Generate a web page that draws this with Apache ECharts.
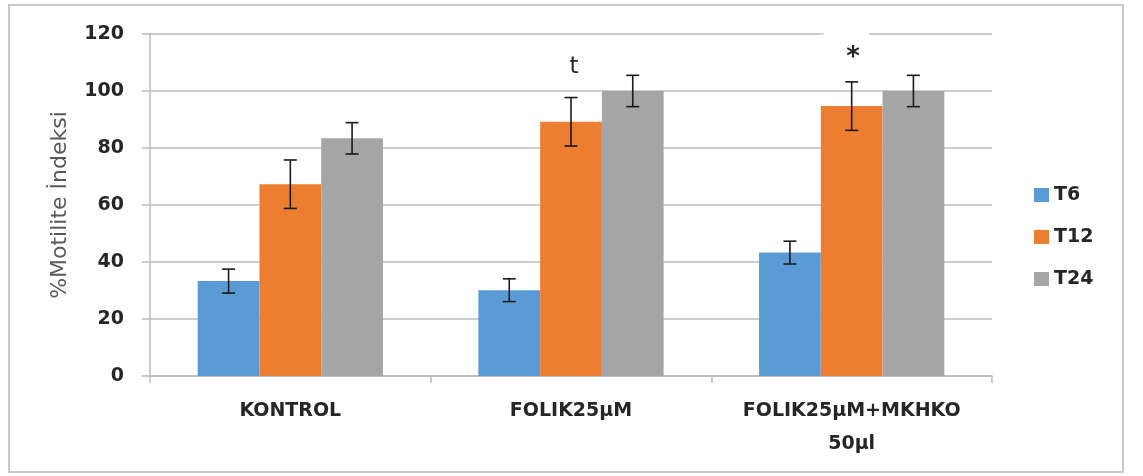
<!DOCTYPE html>
<html>
<head>
<meta charset="utf-8">
<script src="https://cdn.jsdelivr.net/npm/echarts@6/dist/echarts.min.js"></script>
<style>
  html, body { margin: 0; padding: 0; background: #ffffff; }
  #chart { width: 1143px; height: 476px; }
</style>
</head>
<body>
<div id="chart"></div>
<script>
// Groups and time points
const categories = ['KONTROL', 'FOLIK25µM', 'FOLIK25µM+MKHKO\n50µl'];
const seriesNames = ['T6', 'T12', 'T24'];

// Mean motility index (%) per group
const t6Values = [33.3, 30.1, 43.3];
const t12Values = [67.3, 89.2, 94.7];
const t24Values = [83.4, 100, 100];

// Error bar half-widths
const t6Errors = [4.2, 4.0, 4.0];
const t12Errors = [8.5, 8.5, 8.5];
const t24Errors = [5.5, 5.5, 5.5];

// Significance marks above the T12 bars
const t12Marks = ['', 't', '*'];

const yTicks = [0, 20, 40, 60, 80, 100, 120];

const colors = ['#5B9BD5', '#ED7D31', '#A5A5A5'];
const gridColor = '#bcbcbc';
const textColor = '#262626';
const CAT_GAP = 0.34;
const FONT = 'DejaVu Sans';

const markStyles = {
  't': {
    position: 'top', distance: 43, offset: [3, 0],
    fontFamily: FONT, fontSize: 23, fontWeight: 'normal', color: textColor
  },
  '*': {
    position: 'top', distance: 31, offset: [-5.5, 0],
    fontFamily: FONT, fontSize: 26, fontWeight: 'bold', color: textColor,
    backgroundColor: '#ffffff', padding: [14, 9, 4, 23], lineHeight: 26
  }
};

function withMarks(values, marks) {
  return values.map((v, i) => marks[i]
    ? { value: v, label: Object.assign({ show: true, formatter: marks[i] }, markStyles[marks[i]]) }
    : v);
}

function errorSeries(name, values, errors, slot) {
  return {
    type: 'custom',
    name: name + ' err',
    z: 5,
    silent: true,
    data: values.map((v, i) => [i, v, errors[i]]),
    encode: { x: 0, y: 1 },
    renderItem: function (params, api) {
      const idx = api.value(0);
      const val = api.value(1);
      const err = api.value(2);
      const catW = api.size([1, 0])[0];
      const barW = catW * (1 - CAT_GAP) / 3;
      const cx = api.coord([idx, val])[0] + (slot - 1) * barW;
      const yTop = api.coord([idx, val + err])[1];
      const yBot = api.coord([idx, val - err])[1];
      const cap = 6.5;
      const style = { stroke: '#1a1a1a', lineWidth: 1.6 };
      return {
        type: 'group',
        children: [
          { type: 'line', shape: { x1: cx, y1: yTop, x2: cx, y2: yBot }, style: style },
          { type: 'line', shape: { x1: cx - cap, y1: yTop, x2: cx + cap, y2: yTop }, style: style },
          { type: 'line', shape: { x1: cx - cap, y1: yBot, x2: cx + cap, y2: yBot }, style: style }
        ]
      };
    }
  };
}

const chart = echarts.init(document.getElementById('chart'), null, { renderer: 'canvas' });

const option = {
  animation: false,
  backgroundColor: '#ffffff',
  color: colors,
  graphic: [{
    type: 'rect',
    shape: { x: 9, y: 5, width: 1114, height: 467 },
    style: { fill: 'none', stroke: '#c8c8c8', lineWidth: 2 },
    z: -1
  }],
  grid: { left: 150, right: 151, top: 34, bottom: 100 },
  legend: {
    data: seriesNames,
    orient: 'vertical',
    left: 1034,
    top: 185,
    padding: 0,
    itemWidth: 15,
    itemHeight: 14,
    itemGap: 22,
    icon: 'rect',
    textStyle: { fontFamily: FONT, fontSize: 19, fontWeight: 'bold', color: textColor, lineHeight: 20 }
  },
  xAxis: {
    type: 'category',
    data: categories,
    axisLine: { lineStyle: { color: gridColor, width: 1.5 } },
    axisTick: { show: true, interval: 0, length: 7, lineStyle: { color: gridColor, width: 1.5 } },
    axisLabel: {
      interval: 0,
      hideOverlap: false,
      margin: 18.5,
      fontFamily: FONT, fontSize: 19, fontWeight: 'bold', color: textColor, lineHeight: 33
    }
  },
  yAxis: {
    type: 'value',
    min: yTicks[0],
    max: yTicks[yTicks.length - 1],
    interval: yTicks[1] - yTicks[0],
    name: '%Motilite İndeksi',
    nameLocation: 'middle',
    nameGap: 79,
    nameTextStyle: { fontFamily: FONT, fontSize: 22, color: '#595959' },
    axisLine: { show: true, lineStyle: { color: gridColor, width: 1.5 } },
    axisTick: { show: true, length: 8, lineStyle: { color: gridColor, width: 1.5 } },
    splitLine: { lineStyle: { color: gridColor, width: 1.5 } },
    axisLabel: {
      margin: 26,
      fontFamily: FONT, fontSize: 19, fontWeight: 'bold', color: textColor
    }
  },
  series: [
    { type: 'bar', name: seriesNames[0], data: t6Values, barGap: '0%', barCategoryGap: (CAT_GAP * 100) + '%' },
    { type: 'bar', name: seriesNames[1], data: withMarks(t12Values, t12Marks), barGap: '0%', barCategoryGap: (CAT_GAP * 100) + '%' },
    { type: 'bar', name: seriesNames[2], data: t24Values, barGap: '0%', barCategoryGap: (CAT_GAP * 100) + '%' },
    errorSeries(seriesNames[0], t6Values, t6Errors, 0),
    errorSeries(seriesNames[1], t12Values, t12Errors, 1),
    errorSeries(seriesNames[2], t24Values, t24Errors, 2)
  ]
};

chart.setOption(option);
</script>
</body>
</html>
